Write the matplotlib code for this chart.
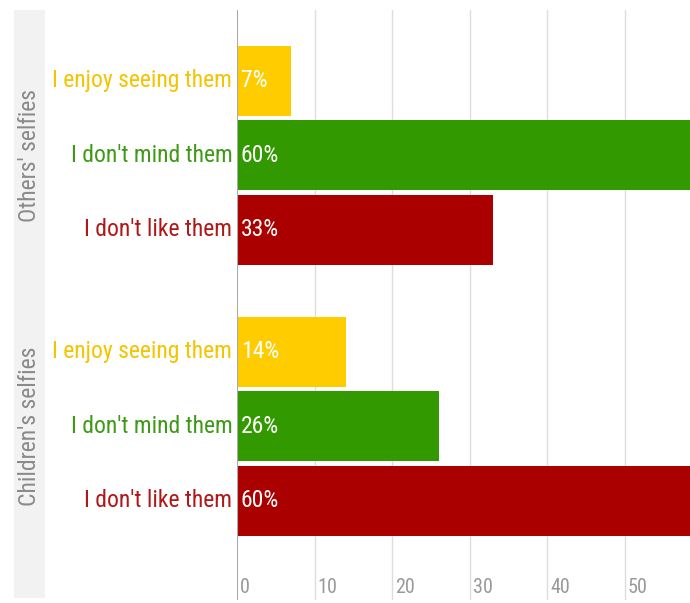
import numpy as np
import matplotlib.pyplot as plt
from matplotlib.patches import Rectangle
from matplotlib import font_manager
import matplotlib.transforms as mtrans

groups = ["Others' selfies", "Children's selfies"]
answers = ["I enjoy seeing them", "I don't mind them", "I don't like them"]
others = [7, 60, 33]
children = [14, 26, 60]
xticks = [0, 10, 20, 30, 40, 50]

colors = ['#FFCC00', '#339900', '#AA0000']
text_colors = ['#F5C400', '#3E9A14', '#B01818']

names = {f.name for f in font_manager.fontManager.ttflist}
fam = 'DejaVu Sans'
for cand in ['Roboto Condensed', 'Liberation Sans Narrow', 'Open Sans Condensed']:
    if cand in names:
        fam = cand
        break
plt.rcParams['font.family'] = [fam, 'DejaVu Sans']
plt.rcParams['font.stretch'] = 'condensed'

W, H = 690, 603
fig = plt.figure(figsize=(W / 100, H / 100), dpi=100)
ax = fig.add_axes([237 / W, 3 / H, 1 - 237 / W, 590 / H])

# gray band behind the group titles
fig.patches.append(Rectangle((14 / W, 5 / H), 31 / W, 588 / H, transform=fig.transFigure,
                             facecolor='#F2F2F2', edgecolor='none', zorder=-1))

ax.set_xlim(0, 58.4)
ax.set_ylim(6.97, -0.95)

gap = 1.64
pos = [np.arange(3), np.arange(3) + 2 + gap]
blend = mtrans.blended_transform_factory(fig.transFigure, ax.transData)
fs = 17
for g, (vals, p) in enumerate(zip([others, children], pos)):
    ax.barh(p, vals, height=0.94, color=colors, zorder=2)
    for i, (v, y) in enumerate(zip(vals, p)):
        ax.text(0.5, y, '%d%%' % v, color='white', ha='left', va='center', fontsize=fs, zorder=3)
        ax.text(-0.6, y, answers[i], color=text_colors[i], ha='right', va='center', fontsize=fs,
                clip_on=False)
    fig.text(30 / W, p[1], groups[g], transform=blend, rotation=90, ha='center', va='center',
             color='#8A8A8A', fontsize=fs)

for t in xticks[1:]:
    ax.axvline(t, color='#DDDDDD', lw=1, zorder=1)
ax.axvline(0, color='#AAAAAA', lw=1.5, zorder=4)
for t in xticks:
    ax.text(t + 0.4, 0.022, str(t), transform=ax.get_xaxis_transform(), ha='left', va='center',
            color='#999999', fontsize=14.5)

ax.set_xticks([])
ax.set_yticks([])
for s in ax.spines.values():
    s.set_visible(False)
ax.patch.set_alpha(0)

fig.savefig('out.png', dpi=100)
